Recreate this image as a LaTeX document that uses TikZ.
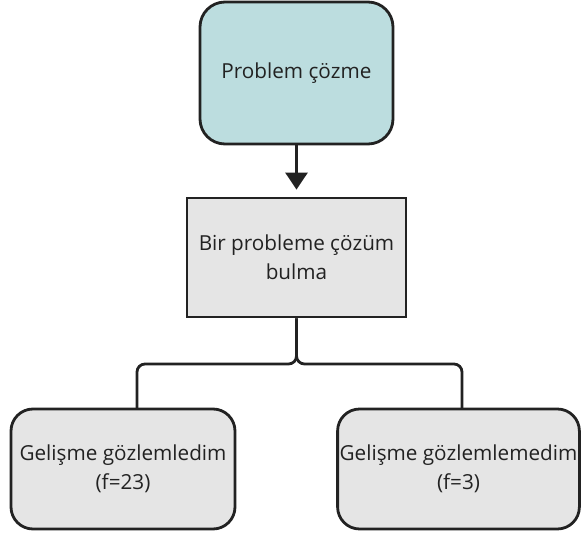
\documentclass[tikz,border=0pt]{standalone}
\usepackage{fontspec}
\setmainfont{Open Sans}
\usepackage{xcolor}
\definecolor{Col1}{RGB}{34,34,34}
\definecolor{Col2}{RGB}{188,221,223}
\definecolor{Col3}{RGB}{229,229,229}
\usepackage{tikz}
\usetikzlibrary{arrows.meta}
\tikzstyle{Node}=[rectangle,draw=Col1,line width=2.8pt,align=center,
font=\fontsize{20.7}{29}\selectfont,text=Col1,inner sep=2pt]
\tikzstyle{NodeR}=[Node,rounded corners=25pt]
\tikzstyle{Edge}=[draw=Col1,line width=2.8pt]

\begin{document}
\begin{tikzpicture}[x=1pt,y=-1pt]
        \useasboundingbox(0,0)rectangle(582,535);
        \node[NodeR,fill=Col2,minimum width=193pt,minimum height=142pt]
            (1)at(296.5,73){Problem çözme};
        \node[Node,fill=Col3,minimum width=219pt,minimum height=119pt]
            (2)at(296.5,257.5){Bir probleme çözüm\\bulma};
        \node[NodeR,fill=Col3,minimum width=224pt,minimum height=120pt,
            rounded corners=22pt](3)at(123,469)
            {Gelişme gözlemledim\\(f=23)};
        \node[NodeR,fill=Col3,minimum width=241pt,minimum height=120pt,
            rounded corners=22pt](4)at(458.5,469)
            {Gelişme gözlemlemedim\\(f=3)};
        \coordinate(3t)at(137,408);
        \coordinate(4t)at(462,408);
        \draw[Edge,-{Triangle[width=22pt,length=17pt]},shorten >=7pt]
            (1)--(2);
        \draw[Edge,rounded corners=8pt](2.south)|-(3t|-0,364)--(3t);
        \draw[Edge,rounded corners=8pt](2.south)|-(4t|-0,364)--(4t);
    \end{tikzpicture}
\end{document}
